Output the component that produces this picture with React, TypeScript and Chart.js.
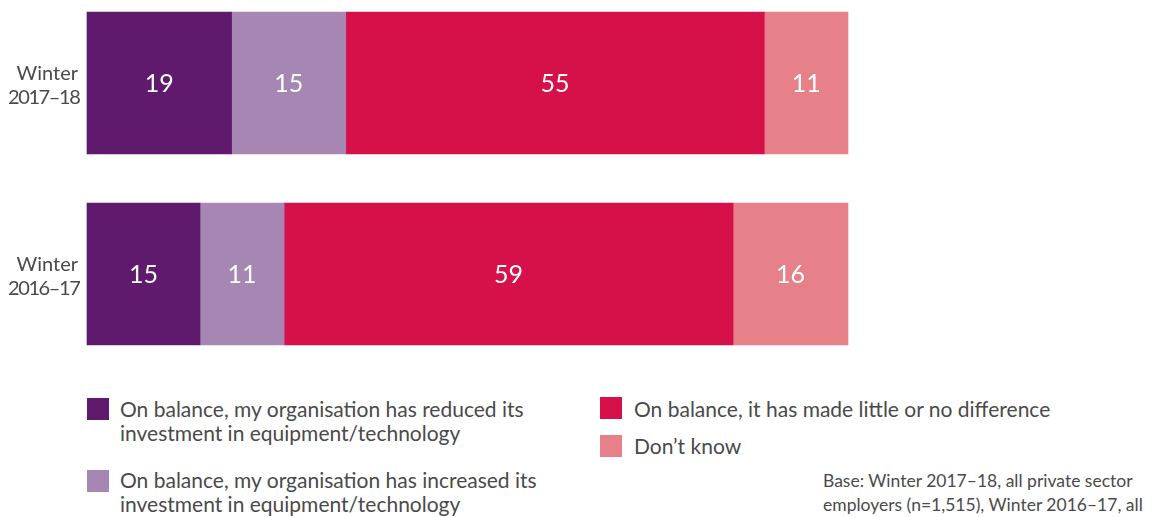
import React, { useEffect, useRef } from "react";
import { Chart, registerables } from "chart.js";

Chart.register(...registerables);

const categories = [
  ["Winter", "2017–18"],
  ["Winter", "2016–17"],
];
const seriesNames = [
  "On balance, my organisation has reduced its\ninvestment in equipment/technology",
  "On balance, my organisation has increased its\ninvestment in equipment/technology",
  "On balance, it has made little or no difference",
  "Don’t know",
];
const seriesColors = ["#5f1a6e", "#a686b3", "#d61049", "#e78189"];

// share of bar length (%)
const reduced = [19, 14.85];
const increased = [15, 11.05];
const noDifference = [55, 59.0];
const dontKnow = [11, 15.1];

// printed numbers
const reducedLabels = ["19", "15"];
const increasedLabels = ["15", "11"];
const noDifferenceLabels = ["55", "59"];
const dontKnowLabels = ["11", "16"];

const baseNote = "Base: Winter 2017–18, all private sector\nemployers (n=1,515), Winter 2016–17, all";

const FONT = "Lato, 'Noto Sans', sans-serif";
const TEXT = "#4a4a4a";

const seriesValues = [reduced, increased, noDifference, dontKnow];
const seriesLabels = [reducedLabels, increasedLabels, noDifferenceLabels, dontKnowLabels];

const valueLabelsPlugin = {
  id: "valueLabels",
  afterDatasetsDraw(chart: any) {
    const ctx = chart.ctx;
    ctx.save();
    ctx.fillStyle = "#ffffff";
    ctx.font = `25px ${FONT}`;
    ctx.textAlign = "center";
    ctx.textBaseline = "middle";
    chart.data.datasets.forEach((_ds: any, i: number) => {
      const meta = chart.getDatasetMeta(i);
      meta.data.forEach((bar: any, j: number) => {
        const { x, base, y } = bar.getProps(["x", "base", "y"], true);
        ctx.fillText(seriesLabels[i][j], (x + base) / 2, y + 1);
      });
    });
    ctx.restore();
  },
};

// category labels drawn next to the y scale (two lines each)
const categoryLabelsPlugin = {
  id: "categoryLabels",
  afterDraw(chart: any) {
    const ctx = chart.ctx;
    const yScale = chart.scales.y;
    const x = chart.chartArea.left - 9;
    ctx.save();
    ctx.fillStyle = TEXT;
    ctx.font = `20px ${FONT}`;
    ctx.textAlign = "right";
    ctx.textBaseline = "alphabetic";
    (chart.data.labels as string[][]).forEach((lines, i) => {
      const cy = yScale.getPixelForValue(i);
      ctx.letterSpacing = "0px";
      ctx.fillText(lines[0], x, cy - 3);
      ctx.letterSpacing = "-1.4px";
      ctx.fillText(lines[1], x + 1.4, cy + 20.5);
    });
    ctx.restore();
  },
};

export default function App() {
  const canvasRef = useRef<HTMLCanvasElement | null>(null);

  useEffect(() => {
    if (!canvasRef.current) return;
    const chart = new Chart(canvasRef.current, {
      type: "bar",
      data: {
        labels: categories,
        datasets: seriesNames.map((name, i) => ({
          label: name,
          data: seriesValues[i],
          backgroundColor: seriesColors[i],
          borderWidth: 0,
          barThickness: 142,
          clip: false as any,
        })),
      },
      options: {
        indexAxis: "y",
        animation: false,
        responsive: true,
        maintainAspectRatio: false,
        layout: { padding: { top: 75, bottom: 114, right: 296, left: 0 } },
        plugins: {
          legend: { display: false },
          tooltip: { enabled: false },
        },
        scales: {
          x: {
            stacked: true,
            min: 0,
            max: 100,
            display: false,
          },
          y: {
            stacked: true,
            offset: false,
            grid: { display: false, drawTicks: false },
            border: { display: false },
            ticks: { display: false },
            afterFit: (scale: any) => {
              scale.width = 87;
            },
          },
        },
      },
      plugins: [valueLabelsPlugin, categoryLabelsPlugin],
    });
    return () => chart.destroy();
  }, []);

  const legendPos = [
    { sq: [79, 390], tx: [112, 389] },
    { sq: [79, 462], tx: [112, 460] },
    { sq: [592, 389], tx: [626, 389] },
    { sq: [592, 427], tx: [626, 426] },
  ];

  return (
    <div style={{ position: "relative", width: 1136, height: 509, fontFamily: FONT, color: TEXT }}>
      <div style={{ position: "absolute", left: -8, top: 0, width: 1144, height: 380 }}>
        <canvas ref={canvasRef} />
      </div>
      {seriesNames.map((name, i) => (
        <React.Fragment key={i}>
          <div
            style={{
              position: "absolute",
              left: legendPos[i].sq[0],
              top: legendPos[i].sq[1],
              width: 22,
              height: 22,
              background: seriesColors[i],
            }}
          />
          <div
            style={{
              position: "absolute",
              left: legendPos[i].tx[0],
              top: legendPos[i].tx[1],
              fontSize: 21,
              lineHeight: "24px",
              whiteSpace: "pre",
            }}
          >
            {name}
          </div>
        </React.Fragment>
      ))}
      <div
        style={{
          position: "absolute",
          left: 815,
          top: 461,
          fontSize: 17.5,
          lineHeight: "24px",
          whiteSpace: "pre",
        }}
      >
        {baseNote}
      </div>
    </div>
  );
}
